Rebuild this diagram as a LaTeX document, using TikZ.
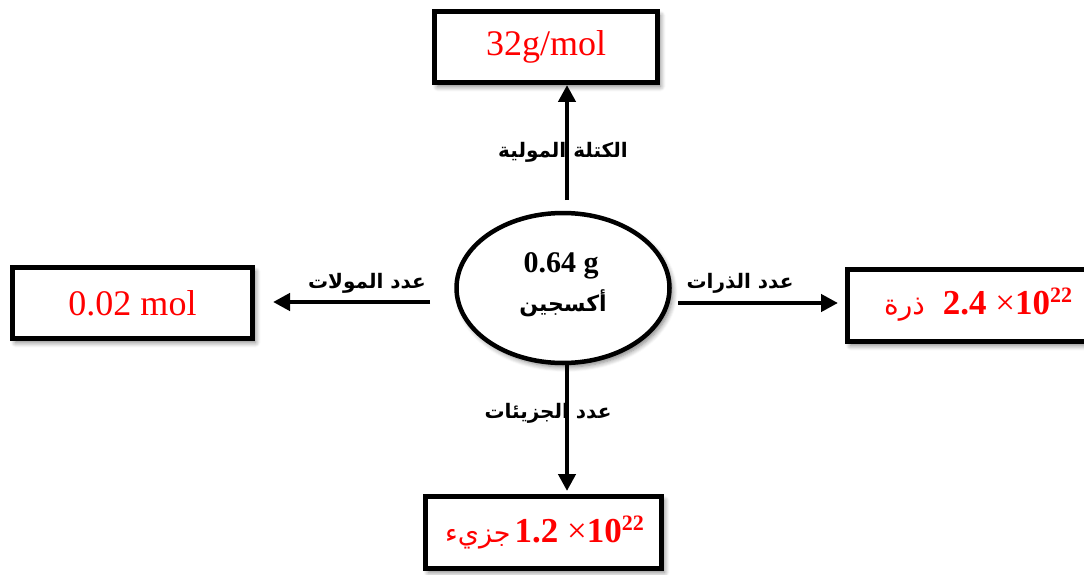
\documentclass[tikz,border=0pt]{standalone}
\usepackage{fontspec}
\setmainfont{Liberation Serif}
\newfontfamily\arabicfont[Script=Arabic]{DejaVu Sans}
\TeXXeTstate=1
\usetikzlibrary{shapes.geometric,shadows.blur,arrows.meta}

\begin{document}
\begin{tikzpicture}[x=1pt,y=-1pt,
  softshadow/.style={blur shadow={shadow xshift=3pt, shadow yshift=-4pt, shadow blur steps=6, shadow opacity=50, shadow blur radius=5pt}},
  valbox/.style={draw=black, line width=5pt, fill=white, rectangle, inner sep=0pt,
    text=red, font=\fontsize{36}{42}\selectfont, softshadow},
  oxyshape/.style={draw=black, line width=4.5pt, fill=white, ellipse, inner sep=0pt, softshadow},
  arr/.style={line width=4.5pt, -{Triangle[length=17pt,width=17pt]}},
  lbl/.style={inner sep=0pt, font=\arabicfont\bfseries\fontsize{20}{23}\selectfont},
  redbold/.style={inner sep=0pt, text=red, font=\bfseries\fontsize{35}{40}\selectfont}
]
\useasboundingbox (0,0) rectangle (1084,575);
\clip (0,0) rectangle (1084,575);

% value boxes
\node[valbox, minimum width=223pt, minimum height=71pt] (top) at (546,47) {32g/mol};
\node[valbox, minimum width=240pt, minimum height=71pt] (left) at (132.5,303) {0.02 mol};
\node[valbox, minimum width=256pt, minimum height=72pt] (right) at (975.5,305.5) {};
\node[valbox, minimum width=236pt, minimum height=72pt] (bottom) at (543.5,532.5) {};

% contents of the two boxes with powers of ten
\node[redbold, anchor=base west] (rtxt) at (884,314)
  {{\arabicfont\mdseries\fontsize{28}{32}\selectfont\beginR ذرة\endR}\hspace{18pt}2.4 {\mdseries×}10\raisebox{12pt}{\fontsize{22}{24}\selectfont 22}};
\node[redbold, anchor=base west] (btxt) at (445,542)
  {{\arabicfont\mdseries\fontsize{27}{32}\selectfont\beginR جزيء\endR}\hspace{4pt}1.2 {\mdseries×}10\raisebox{12pt}{\fontsize{22}{24}\selectfont 22}};

% central ellipse
\node[oxyshape, minimum width=213pt, minimum height=150pt] (oxy) at (563,288) {};
\node[inner sep=0pt, font=\bfseries\fontsize{30}{36}\selectfont] (mass) at (561,266) {0.64 g};
\node[inner sep=0pt, font=\arabicfont\bfseries\fontsize{22}{26}\selectfont] (oxyname) at (563,303) {\beginR أكسجين\endR};

% arrow start points
\coordinate (ts) at (567,200);
\coordinate (ls) at (430,302);
\coordinate (rs) at (678,303);
\coordinate (bs) at (567,364);

\draw[arr] (ts) -- (ts |- top.south);
\draw[arr, shorten >=18pt] (ls) -- (ls -| left.east);
\draw[arr, shorten >=7pt] (rs) -- (rs -| right.west);
\draw[arr, shorten >=3pt] (bs) -- (bs |- bottom.north);

% arrow labels
\node[lbl] (ltop) at (563,152) {\beginR الكتلة المولية\endR};
\node[lbl] (lleft) at (367,283) {\beginR عدد المولات\endR};
\node[lbl] (lright) at (740,283) {\beginR عدد الذرات\endR};
\node[lbl] (lbottom) at (548,413) {\beginR عدد الجزيئات\endR};
\end{tikzpicture}
\end{document}
